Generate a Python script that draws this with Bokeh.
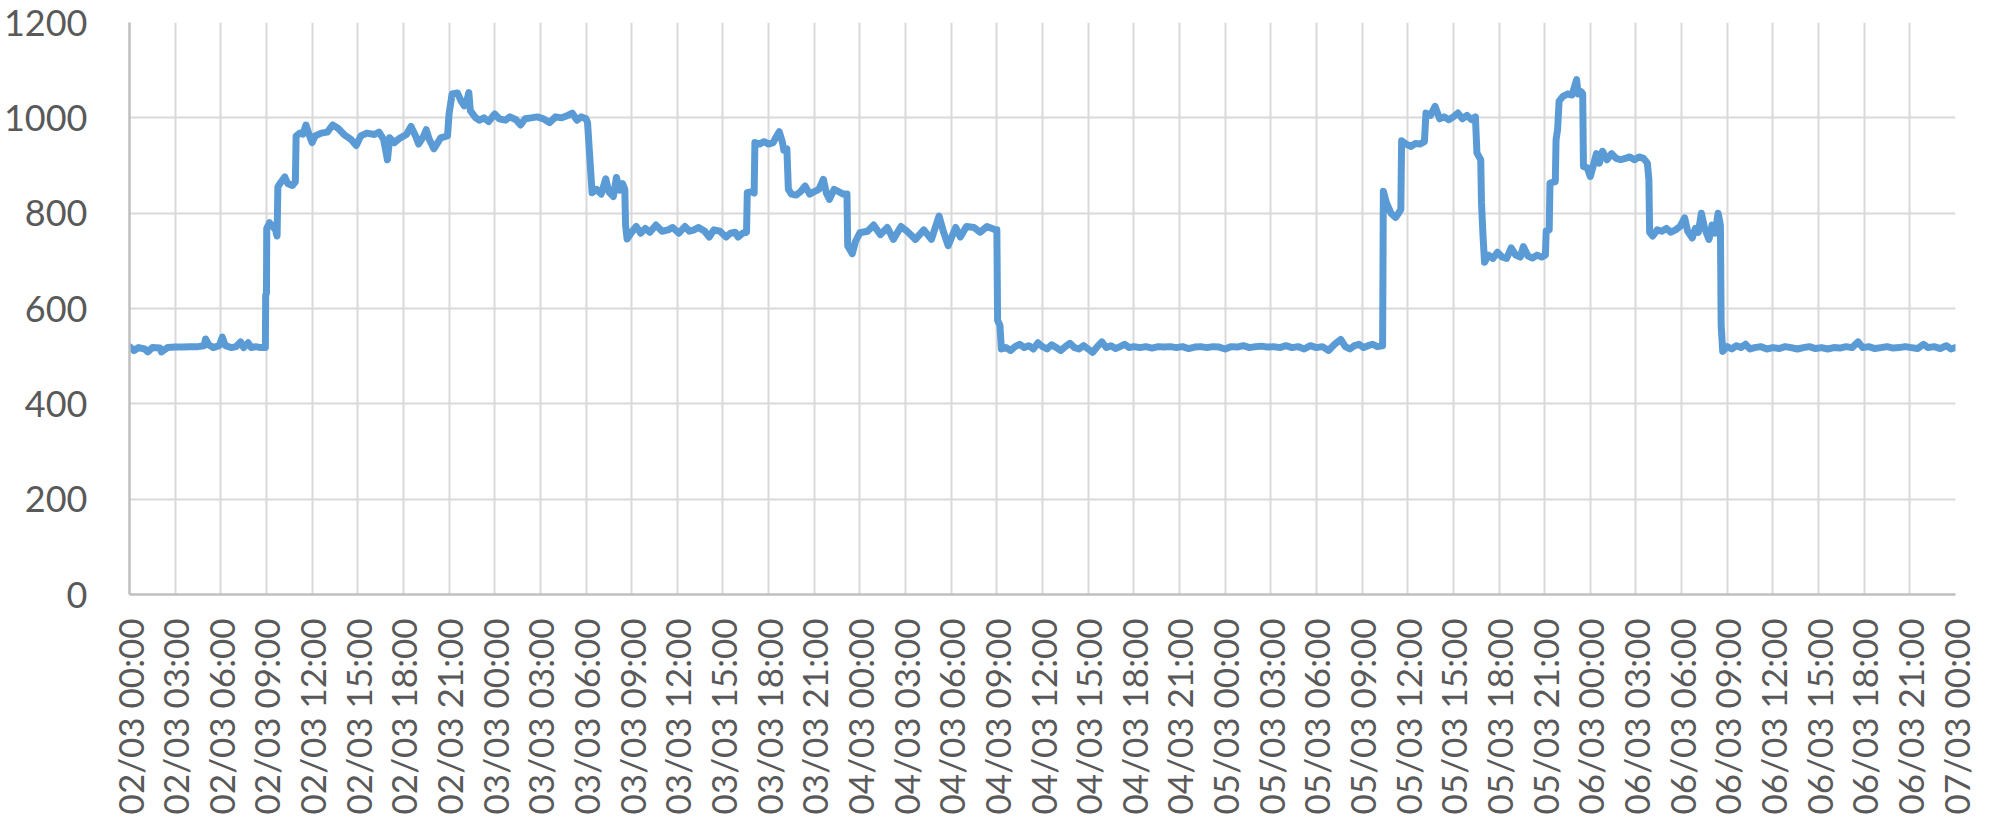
import math
from bokeh.plotting import figure
from bokeh.models import Range1d, FixedTicker
from bokeh.embed import file_html
from bokeh.resources import INLINE

# hours since 02/03 00:00
hours = [
    0.0, 0.3, 0.6, 1.0, 1.2, 1.5, 2.0, 2.1, 2.5, 3.0, 3.5, 4.0, 4.5, 4.9, 5.0, 5.2, 5.5, 5.9, 6.1, 6.3,
    6.7, 7.0, 7.3, 7.5, 7.8, 8.0, 8.3, 8.6, 8.93, 8.95, 9.0, 9.02, 9.2, 9.4, 9.6, 9.7, 9.75, 9.95, 10.2, 10.4,
    10.7, 10.9, 10.95, 11.2, 11.4, 11.6, 11.8, 12.0, 12.2, 12.6, 13.0, 13.35, 13.7, 14.1, 14.55, 14.9, 15.2, 15.6, 16.1, 16.4,
    16.7, 16.95, 17.1, 17.4, 17.8, 18.2, 18.5, 18.8, 19.0, 19.3, 19.5, 19.7, 20.0, 20.45, 20.9, 21.0, 21.2, 21.55, 21.8, 22.0,
    22.2, 22.3, 22.4, 22.75, 23.0, 23.3, 23.6, 24.0, 24.3, 24.7, 25.0, 25.4, 25.7, 26.0, 26.4, 26.8, 27.2, 27.6, 28.0, 28.4,
    28.8, 29.1, 29.4, 29.7, 30.0, 30.1, 30.4, 30.7, 31.0, 31.3, 31.5, 31.8, 32.0, 32.2, 32.4, 32.55, 32.6, 32.7, 33.0, 33.3,
    33.6, 33.9, 34.2, 34.6, 35.0, 35.4, 35.7, 36.1, 36.5, 36.8, 37.1, 37.4, 37.8, 38.1, 38.4, 38.8, 39.2, 39.5, 39.8, 40.0,
    40.3, 40.55, 40.6, 40.9, 41.05, 41.1, 41.4, 41.7, 42.0, 42.3, 42.5, 42.7, 42.9, 43.0, 43.2, 43.3, 43.5, 43.8, 44.1, 44.4,
    44.7, 45.0, 45.3, 45.6, 45.8, 46.0, 46.3, 46.6, 46.9, 47.15, 47.2, 47.5, 47.7, 48.0, 48.5, 48.9, 49.35, 49.8, 50.2, 50.7,
    51.1, 51.65, 52.2, 52.7, 53.2, 53.5, 53.8, 54.3, 54.6, 55.0, 55.5, 55.9, 56.35, 56.9, 57.0, 57.05, 57.2, 57.3, 57.6, 57.9,
    58.2, 58.5, 58.8, 59.1, 59.4, 59.7, 60.0, 60.3, 60.6, 60.9, 61.2, 61.5, 61.8, 62.1, 62.4, 62.7, 63.0, 63.3, 63.6, 63.9,
    64.2, 64.5, 64.8, 65.1, 65.4, 65.7, 66.0, 66.4, 66.8, 67.2, 67.6, 68.0, 68.4, 68.8, 69.2, 69.6, 70.0, 70.4, 70.8, 71.2,
    71.6, 72.0, 72.4, 72.8, 73.2, 73.6, 74.0, 74.4, 74.8, 75.2, 75.6, 76.0, 76.4, 76.8, 77.2, 77.6, 78.0, 78.4, 78.8, 79.2,
    79.6, 79.9, 80.2, 80.5, 80.8, 81.1, 81.4, 81.7, 82.0, 82.35, 82.4, 82.6, 82.9, 83.2, 83.4, 83.55, 83.6, 83.9, 84.2, 84.5,
    84.8, 85.1, 85.2, 85.5, 85.8, 86.1, 86.4, 86.7, 87.0, 87.3, 87.6, 87.9, 88.2, 88.45, 88.55, 88.8, 88.85, 88.95, 89.05, 89.3,
    89.6, 89.9, 90.2, 90.5, 90.8, 91.1, 91.4, 91.6, 91.9, 92.2, 92.5, 92.8, 93.05, 93.1, 93.3, 93.35, 93.7, 93.75, 93.85, 93.95,
    94.2, 94.5, 94.8, 95.1, 95.2, 95.4, 95.5, 95.55, 95.8, 96.0, 96.2, 96.4, 96.6, 96.8, 97.1, 97.4, 97.7, 98.0, 98.3, 98.6,
    98.9, 99.2, 99.5, 99.75, 99.85, 99.9, 100.1, 100.4, 100.7, 101.0, 101.3, 101.6, 101.9, 102.2, 102.4, 102.7, 102.9, 103.1, 103.3, 103.5,
    103.8, 104.0, 104.2, 104.4, 104.55, 104.6, 104.7, 105.0, 105.3, 105.6, 105.9, 106.2, 106.5, 106.8, 107.2, 107.6, 108.0, 108.4, 108.8, 109.2,
    109.6, 110.0, 110.4, 110.8, 111.2, 111.6, 112.0, 112.4, 112.8, 113.2, 113.6, 113.9, 114.3, 114.7, 115.1, 115.5, 115.9, 116.3, 116.7, 117.1,
    117.5, 117.9, 118.2, 118.6, 119.0, 119.4, 119.7, 120.0,
]

values = [
    520, 512, 518, 515, 509, 518, 517, 509, 518, 519, 519, 520, 520, 522, 536, 524, 518, 522, 540, 522,
    518, 520, 530, 518, 528, 518, 520, 518, 518, 628, 632, 768, 780, 772, 765, 752, 855, 865, 876, 862,
    858, 866, 962, 968, 966, 985, 965, 948, 962, 968, 970, 985, 978, 965, 955, 942, 962, 968, 965, 970,
    955, 912, 958, 948, 958, 965, 982, 962, 945, 960, 975, 955, 935, 958, 962, 1008, 1050, 1052, 1035, 1025,
    1040, 1053, 1015, 1000, 995, 1000, 992, 1008, 998, 995, 1002, 996, 985, 998, 1000, 1002, 998, 990, 1002, 1000,
    1005, 1010, 995, 1002, 998, 990, 843, 850, 840, 872, 845, 835, 875, 848, 862, 850, 775, 746, 760, 772,
    758, 768, 760, 775, 762, 765, 770, 758, 772, 762, 765, 770, 762, 750, 765, 762, 750, 758, 760, 750,
    758, 760, 843, 845, 842, 948, 945, 950, 945, 948, 960, 971, 950, 932, 935, 850, 840, 838, 845, 857,
    840, 845, 850, 871, 842, 829, 850, 845, 840, 840, 731, 715, 740, 759, 762, 775, 755, 770, 745, 772,
    762, 745, 765, 745, 794, 760, 732, 770, 750, 772, 770, 760, 772, 765, 765, 575, 565, 515, 518, 512,
    520, 525, 518, 522, 515, 528, 520, 515, 524, 518, 512, 520, 527, 518, 515, 522, 515, 508, 520, 530,
    518, 522, 516, 520, 525, 518, 520, 518, 520, 517, 520, 519, 520, 518, 520, 516, 519, 520, 518, 520,
    519, 515, 520, 519, 522, 518, 520, 521, 519, 520, 518, 522, 518, 520, 515, 522, 518, 520, 512, 525,
    535, 520, 515, 522, 525, 518, 522, 525, 520, 522, 846, 822, 800, 791, 800, 808, 952, 945, 940, 946,
    945, 950, 1010, 1005, 1024, 998, 1002, 996, 1002, 1010, 998, 1005, 996, 1002, 926, 912, 822, 752, 697, 712,
    705, 718, 708, 705, 727, 712, 708, 730, 710, 706, 712, 708, 712, 763, 765, 863, 866, 954, 975, 1035,
    1045, 1050, 1048, 1080, 1050, 1055, 1050, 898, 895, 877, 900, 925, 905, 930, 912, 925, 915, 912, 915, 918,
    912, 918, 915, 905, 870, 760, 752, 765, 762, 768, 760, 765, 772, 790, 762, 748, 768, 760, 800, 770,
    745, 775, 758, 800, 775, 565, 510, 520, 515, 522, 518, 525, 515, 518, 520, 515, 518, 516, 520, 518,
    515, 518, 520, 516, 518, 515, 518, 517, 520, 518, 530, 518, 520, 516, 518, 520, 517, 518, 520, 518,
    516, 525, 518, 520, 516, 522, 515, 518,
]

x_ticks = [0, 3, 6, 9, 12, 15, 18, 21, 24, 27, 30, 33, 36, 39, 42, 45, 48, 51, 54, 57, 60,
           63, 66, 69, 72, 75, 78, 81, 84, 87, 90, 93, 96, 99, 102, 105, 108, 111, 114, 117, 120]
x_labels = [
    "02/03 00:00", "02/03 03:00", "02/03 06:00", "02/03 09:00", "02/03 12:00", "02/03 15:00", "02/03 18:00", "02/03 21:00",
    "03/03 00:00", "03/03 03:00", "03/03 06:00", "03/03 09:00", "03/03 12:00", "03/03 15:00", "03/03 18:00", "03/03 21:00",
    "04/03 00:00", "04/03 03:00", "04/03 06:00", "04/03 09:00", "04/03 12:00", "04/03 15:00", "04/03 18:00", "04/03 21:00",
    "05/03 00:00", "05/03 03:00", "05/03 06:00", "05/03 09:00", "05/03 12:00", "05/03 15:00", "05/03 18:00", "05/03 21:00",
    "06/03 00:00", "06/03 03:00", "06/03 06:00", "06/03 09:00", "06/03 12:00", "06/03 15:00", "06/03 18:00", "06/03 21:00",
    "07/03 00:00",
]
y_ticks = [0, 200, 400, 600, 800, 1000, 1200]

FONT = "Lato"
TEXT = "#595959"

p = figure(width=1988, height=820, output_backend="svg", toolbar_location=None,
           x_range=Range1d(0, 120), y_range=Range1d(0, 1200),
           min_border_left=127, min_border_right=33, min_border_top=22, min_border_bottom=226)
p.outline_line_color = None
p.background_fill_color = "white"
p.border_fill_color = "white"

p.line(hours, values, line_color="#5B9BD5", line_width=7, line_join="round", line_cap="round")

p.xaxis.ticker = FixedTicker(ticks=x_ticks)
p.xaxis.major_label_overrides = {t: lab for t, lab in zip(x_ticks, x_labels)}
p.xaxis.major_label_orientation = math.pi / 2
p.xaxis.major_label_standoff = 24
p.yaxis.ticker = FixedTicker(ticks=y_ticks)
p.yaxis.major_label_standoff = 42

for ax in (p.xaxis, p.yaxis):
    ax.major_label_text_font = FONT
    ax.major_label_text_color = TEXT
    ax.major_tick_line_color = None
    ax.minor_tick_line_color = None
    ax.major_tick_out = 0
    ax.major_tick_in = 0
    ax.axis_line_color = "#bfbfbf"
    ax.axis_line_width = 2.5
p.xaxis.major_label_text_font_size = "35px"
p.yaxis.major_label_text_font_size = "36px"

for g in (p.xgrid, p.ygrid):
    g.grid_line_color = "#d9d9d9"
    g.grid_line_width = 2

open("out.html", "w").write(file_html(p, INLINE))
